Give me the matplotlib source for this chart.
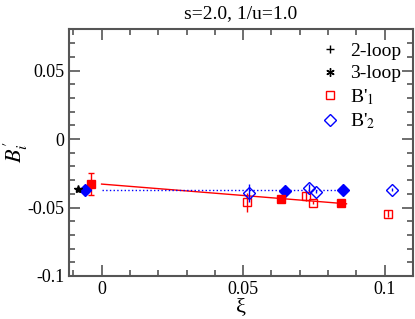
import numpy as np
import matplotlib.pyplot as plt
from matplotlib.ticker import MultipleLocator
from matplotlib.lines import Line2D

plt.rcParams['font.family'] = ['Liberation Serif', 'DejaVu Serif']
plt.rcParams['mathtext.fontset'] = 'stix'

# estimates (3-loop and extrapolations)
star_x = [-0.0083]
star_y = [-0.0365]
b2_ext_x = [-0.0059]
b2_ext_y = [-0.0372]
b1_ext_x = [-0.0039]
b1_ext_y = [-0.0328]
b1_ext_err = [0.0078]

# B'_1 open points
b1_x = [0.0512, 0.0721, 0.0747, 0.1013]
b1_y = [-0.0461, -0.0418, -0.0466, -0.0546]
b1_err = [0.0070, 0.0036, 0.0012, 0.0025]
# B'_2 open points
b2_x = [0.0521, 0.0732, 0.0757, 0.1024]
b2_y = [-0.0396, -0.0357, -0.0384, -0.0370]
b2_err = [0.0065, 0.0030, 0.0010, 0.0010]

# filled points
b1f_x = [0.0634, 0.0844]
b1f_y = [-0.0437, -0.0469]
b1f_err = [0.0012, 0.0008]
b2f_x = [0.0647, 0.0853]
b2f_y = [-0.0382, -0.0370]

# fit lines
fit1_x = [0.0, 0.0865]
fit1_y = [-0.0329, -0.0473]
fit2_x = [0.0, 0.0853]
fit2_y = [-0.0372, -0.0372]

fig = plt.figure(figsize=(4.15, 3.19), dpi=100)
ax = fig.add_axes([0.1663, 0.1348, 0.829, 0.773])

ax.plot(fit1_x, fit1_y, '-', color='red', lw=1)
ax.plot(fit2_x, fit2_y, ':', color='blue', lw=1)

ax.errorbar(b1_x, b1_y, yerr=b1_err, fmt='s', mfc='none', mec='red', ecolor='red',
            ms=6, mew=1, elinewidth=1, capsize=0, zorder=3)
ax.errorbar(b2_x, b2_y, yerr=b2_err, fmt='D', mfc='none', mec='blue', ecolor='blue',
            ms=6, mew=1, elinewidth=1, capsize=0, zorder=3)
ax.errorbar(b1f_x, b1f_y, yerr=b1f_err, fmt='s', color='red', ms=6, elinewidth=1, capsize=0, zorder=4)
ax.plot(b2f_x, b2f_y, 'D', color='blue', ms=6, zorder=4)
ax.errorbar(b1_ext_x, b1_ext_y, yerr=b1_ext_err, fmt='s', color='red', ms=6,
            elinewidth=1, capsize=2, zorder=4)
ax.plot(b2_ext_x, b2_ext_y, 'D', color='blue', ms=6, zorder=5)
ax.plot(star_x, star_y, '*', color='black', ms=6, zorder=6)

# legend
handles = [
    Line2D([], [], marker='+', ls='none', color='black', ms=6),
    Line2D([], [], marker=(6, 2, 0), ls='none', color='black', ms=6),
    Line2D([], [], marker='s', ls='none', mfc='none', mec='red', ms=6),
    Line2D([], [], marker='D', ls='none', mfc='none', mec='blue', ms=6),
]
labels = ['2-loop', '3-loop', "B'$_1$", "B'$_2$"]
ax.legend(handles, labels, loc='upper left', bbox_to_anchor=(0.729, 0.948), frameon=False,
          fontsize=14, handletextpad=0.55, handlelength=1.0, borderaxespad=0,
          borderpad=0, labelspacing=0.25)

ax.set_xlim(-0.0115, 0.11)
ax.set_ylim(-0.1, 0.08)
ax.xaxis.set_minor_locator(MultipleLocator(0.01))
ax.yaxis.set_minor_locator(MultipleLocator(0.01))
ax.set_xticks([0, 0.05, 0.1])
ax.set_xticklabels(['0', '0.05', '0.1'])
ax.set_yticks([-0.1, -0.05, 0, 0.05])
ax.set_yticklabels(['-0.1', '-0.05', '0', '0.05'])

for s in ax.spines.values():
    s.set_color('#555555')
    s.set_linewidth(1.5)
ax.tick_params(which='both', direction='in', top=True, right=True, colors='#555555',
               labelcolor='black', labelsize=13)
ax.tick_params(which='major', length=8, width=1.2)
ax.tick_params(which='minor', length=4, width=1.2)

ax.set_xlabel('ξ', fontsize=16, labelpad=0)
ax.set_ylabel(r"$B^{\prime}_i$", fontsize=16)
ax.yaxis.set_label_coords(-0.112, 0.5)
ax.set_title('s=2.0, 1/u=1.0', fontsize=14, pad=8)

fig.savefig('out.png', dpi=100)
